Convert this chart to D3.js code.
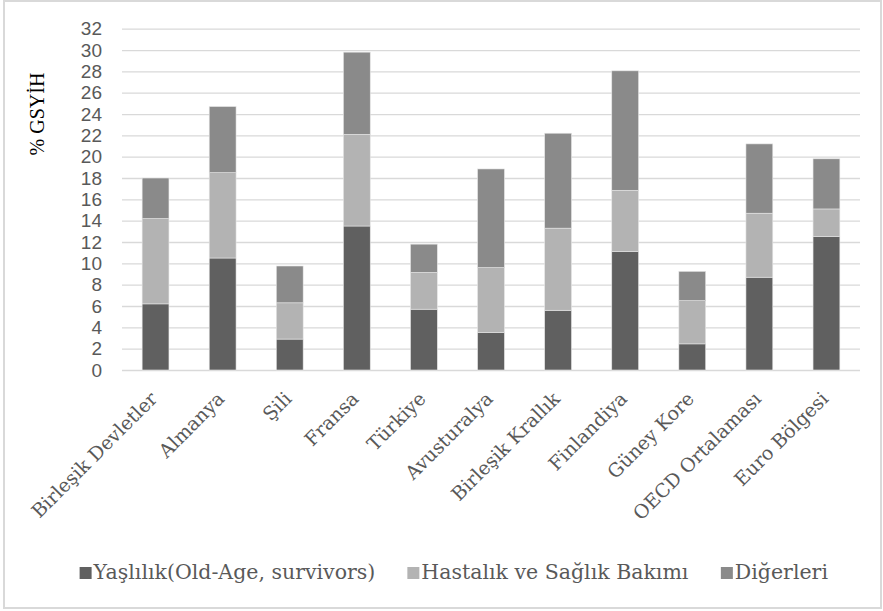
<!DOCTYPE html>
<html>
<head>
<meta charset="utf-8">
<script src="https://cdn.jsdelivr.net/npm/d3@7"></script>
<style>
    body { margin: 0; background: #fff; }
    svg { display: block; }
</style>
</head>
<body>
<svg id="chart"></svg>
<script>
// Chart data
let countries = ["Birleşik Devletler", "Almanya", "Şili", "Fransa", "Türkiye", "Avusturalya",
    "Birleşik Krallık", "Finlandiya", "Güney Kore", "OECD Ortalaması", "Euro Bölgesi"];
let oldAge = [6.2, 10.5, 2.9, 13.5, 5.7, 3.5, 5.6, 11.1, 2.45, 8.7, 12.5];
let health = [8.0, 8.0, 3.4, 8.6, 3.45, 6.1, 7.7, 5.75, 4.05, 6.0, 2.6];
let others = [3.8, 6.2, 3.45, 7.7, 2.65, 9.25, 8.9, 11.2, 2.75, 6.5, 4.7];
let seriesNames = ["Yaşlılık(Old-Age, survivors)", "Hastalık ve Sağlık Bakımı", "Diğerleri"];
let yTicks = d3.range(0, 33, 2);

let config = {
    svg: {width: 883, height: 611},
    plot: {left: 122, right: 860, top: 28.7, bottom: 370}
};
let colors = ["#606060", "#b3b3b3", "#8a8a8a"];

let svg = d3.select("#chart")
    .attr("width", config.svg.width)
    .attr("height", config.svg.height);

// outer frame
svg.append("rect")
    .attr("x", 4).attr("y", 1)
    .attr("width", 877).attr("height", 607)
    .attr("fill", "none")
    .attr("stroke", "#d9d9d9")
    .attr("stroke-width", 2);

let scales = {};
scales.x = d3.scaleBand()
    .domain(countries)
    .range([config.plot.left, config.plot.right])
    .paddingInner(0.6)
    .paddingOuter(0.3);
scales.y = d3.scaleLinear()
    .domain([0, 32])
    .range([config.plot.bottom, config.plot.top]);

// gridlines
let grid = svg.append("g")
    .attr("class", "gridlines")
    .attr("transform", "translate(" + config.plot.left + ",0)")
    .call(d3.axisLeft(scales.y)
        .tickValues(yTicks)
        .tickSize(-(config.plot.right - config.plot.left))
        .tickFormat(""));
grid.select(".domain").remove();
grid.selectAll("line").attr("stroke", "#d9d9d9").attr("stroke-width", 1.3);

// y axis labels
let yAxis = svg.append("g")
    .attr("transform", "translate(" + (config.plot.left - 20) + ",0)")
    .call(d3.axisLeft(scales.y).tickValues(yTicks).tickSize(0).tickPadding(0));
yAxis.select(".domain").remove();
yAxis.selectAll("text")
    .attr("fill", "#595959")
    .style("font-family", "'Liberation Sans', sans-serif")
    .style("font-size", "19px");

// stacked bars
let rows = countries.map((c, i) => ({country: c, s0: oldAge[i], s1: health[i], s2: others[i]}));
let stack = d3.stack().keys(["s0", "s1", "s2"])(rows);

let bars = svg.append("g").attr("id", "bars");
bars.selectAll("g")
    .data(stack)
    .join("g")
    .attr("fill", (d, i) => colors[i])
    .selectAll("rect")
    .data(d => d)
    .join("rect")
    .attr("x", d => scales.x(d.data.country))
    .attr("width", scales.x.bandwidth())
    .attr("y", d => scales.y(d[1]))
    .attr("height", d => scales.y(d[0]) - scales.y(d[1]))
    .attr("stroke", "#e6e6e6")
    .attr("stroke-width", 0.6);

// x axis labels
let xAxis = svg.append("g")
    .attr("transform", "translate(0," + config.plot.bottom + ")")
    .call(d3.axisBottom(scales.x).tickSize(0).tickPadding(0));
xAxis.select(".domain").remove();
xAxis.selectAll("text")
    .attr("text-anchor", "end")
    .attr("dy", 0)
    .attr("transform", "translate(3,30) rotate(-45)")
    .attr("fill", "#595959")
    .style("font-family", "'DejaVu Serif', serif")
    .style("font-size", "19px");

// y title
svg.append("text")
    .attr("transform", "translate(44,114) rotate(-90)")
    .attr("text-anchor", "middle")
    .attr("fill", "#000")
    .style("font-family", "'Liberation Serif', serif")
    .style("font-size", "20px")
    .text("% GSYİH");

// legend
let legend = svg.append("g").attr("id", "legend");
let items = legend.selectAll("g")
    .data(seriesNames)
    .join("g");
items.append("rect")
    .attr("width", 12).attr("height", 12)
    .attr("y", -12)
    .attr("fill", (d, i) => colors[i]);
items.append("text")
    .attr("x", 14)
    .attr("fill", "#595959")
    .style("font-family", "'DejaVu Serif', serif")
    .style("font-size", "20.5px")
    .text(d => d);

let offset = 0;
let widths = [];
items.each(function() {
    widths.push(this.getBBox().width);
});
items.attr("transform", function(d, i) {
    let x = offset;
    offset += widths[i] + 32;
    return "translate(" + x + ",0)";
});
let total = offset - 32;
legend.attr("transform", "translate(" + (454 - total / 2) + ",579)");
</script>
</body>
</html>
